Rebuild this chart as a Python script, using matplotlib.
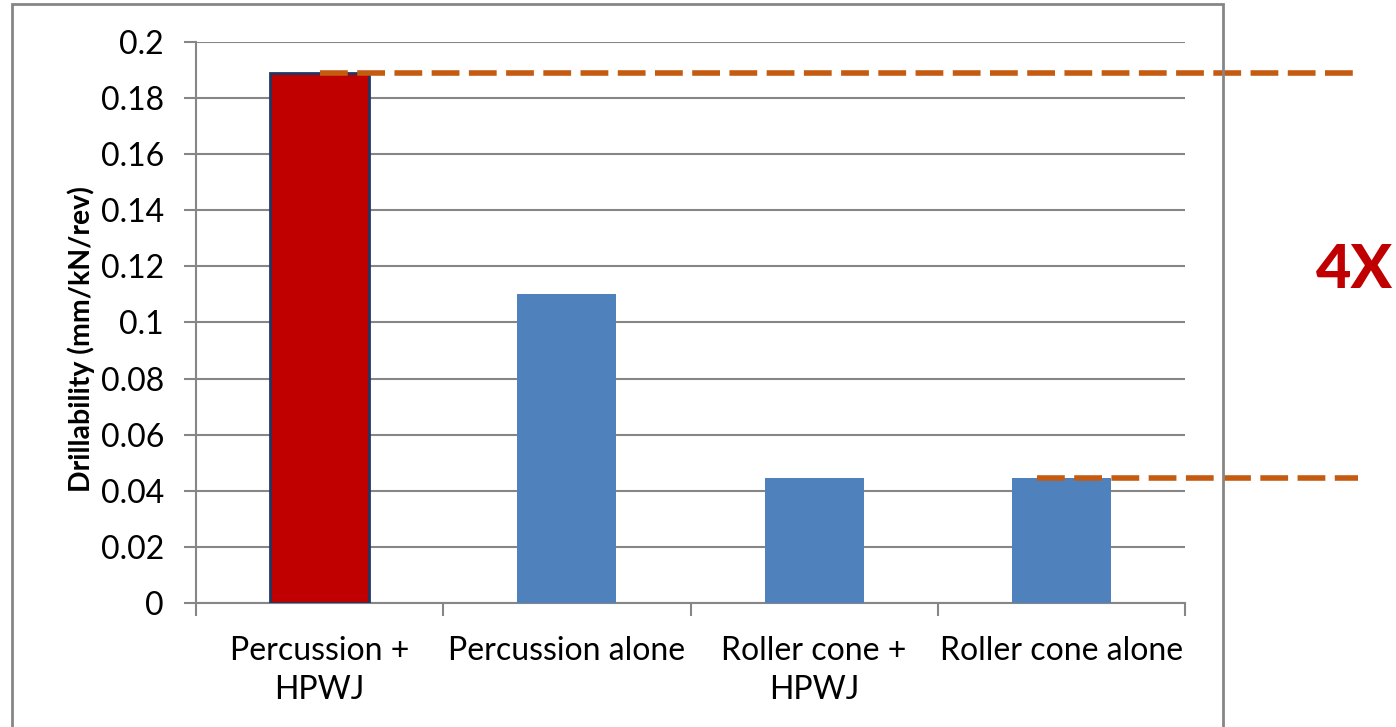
import matplotlib.pyplot as plt
from matplotlib.patches import Rectangle

# données
categories = ["Percussion +\nHPWJ", "Percussion alone", "Roller cone +\nHPWJ", "Roller cone alone"]
drillability = [0.189, 0.11, 0.0446, 0.0446]
bar_colors = ["#C00000", "#4F81BD", "#4F81BD", "#4F81BD"]
y_ticks = [0, 0.02, 0.04, 0.06, 0.08, 0.1, 0.12, 0.14, 0.16, 0.18, 0.2]
y_tick_labels = ["0", "0.02", "0.04", "0.06", "0.08", "0.1", "0.12", "0.14", "0.16", "0.18", "0.2"]
ratio_label = "4X"

GRID = "#868686"
ORANGE = "#C55A11"

plt.rcParams['font.family'] = ['Lato', 'DejaVu Sans']

fig = plt.figure(figsize=(13.96, 7.27), dpi=100)
ax = fig.add_axes([0.1404, 0.1706, 0.7085, 0.7716])

x = list(range(len(categories)))
bars = ax.bar(x, drillability, width=0.4, color=bar_colors, zorder=3)
bars[0].set_edgecolor("#1F3864")
bars[0].set_linewidth(2)

ax.set_xlim(-0.5, 3.5)
ax.set_ylim(0, 0.2)
ax.set_yticks(y_ticks)
ax.set_yticklabels(y_tick_labels, fontsize=23)
ax.set_xticks(x)
ax.set_xticklabels(categories, fontsize=23, linespacing=1.35)
ax.tick_params(axis='x', length=0, pad=24)
ax.tick_params(axis='y', length=9, width=1.5, color=GRID, pad=14)

# ticks entre les catégories
ax.set_xticks([-0.5, 0.5, 1.5, 2.5, 3.5], minor=True)
ax.tick_params(axis='x', which='minor', length=9, width=1.5, color=GRID)

ax.yaxis.grid(True, color=GRID, linewidth=1.5, zorder=0)
ax.set_axisbelow(True)
for side in ["top", "right"]:
    ax.spines[side].set_visible(False)
for side in ["left", "bottom"]:
    ax.spines[side].set_color(GRID)
    ax.spines[side].set_linewidth(1.5)

ax.set_ylabel("Drillability (mm/kN/rev)", fontsize=20.5, fontweight='bold')
ax.yaxis.set_label_coords(-0.102, 0.47)

# lignes de comparaison
ax.plot([0.0, 4.2], [drillability[0], drillability[0]], color=ORANGE, lw=4,
        dashes=(5, 1.7), clip_on=False, zorder=4)
ax.plot([2.9, 4.2], [drillability[3], drillability[3]], color=ORANGE, lw=4,
        dashes=(5, 1.7), clip_on=False, zorder=4)

fig.text(0.9705, 0.629, ratio_label, color="#C00000", fontsize=44, fontweight='black',
         ha='center', va='center')

# cadre du graphique
fig.patches.append(Rectangle((0.0086, -0.01), 0.8675, 1.0045, transform=fig.transFigure,
                             fill=False, edgecolor=GRID, linewidth=2))

fig.savefig("out.png", dpi=100)
